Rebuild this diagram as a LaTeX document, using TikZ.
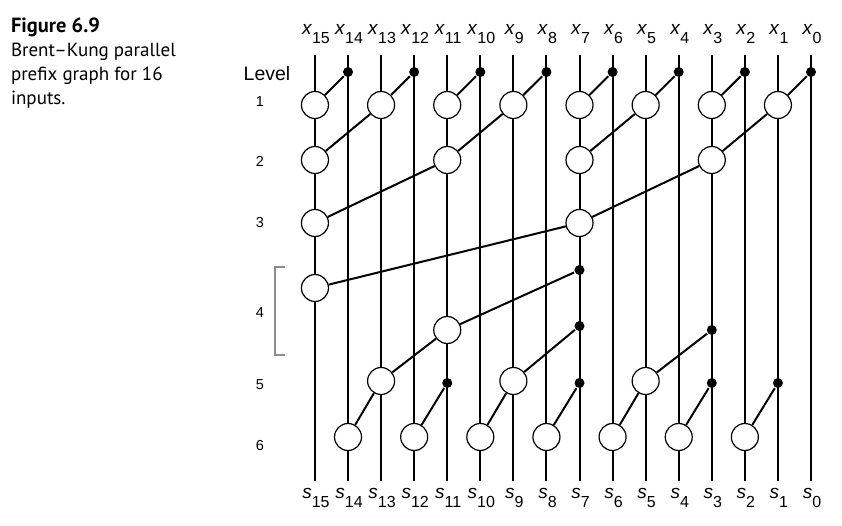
\documentclass[tikz,border=0pt]{standalone}
\usepackage{fontspec}
\setmainfont{Liberation Sans}
\newfontfamily\capfont{PT Sans}
\tikzset{pnode/.style={circle,draw,fill=white,line width=1.2pt,minimum size=27pt,inner sep=0pt},
fanout/.style={circle,fill=black,minimum size=10pt,inner sep=0pt},
lbl/.style={anchor=base,font=\fontsize{19}{19}\selectfont,inner sep=0pt},
levnum/.style={anchor=base,font=\fontsize{14.5}{14.5}\selectfont,inner sep=0pt}}
\newcommand{\idx}[2]{\textit{#1}\raisebox{-9pt}{\fontsize{16}{16}\selectfont #2}}

\begin{document}
\begin{tikzpicture}[x=1pt,y=-1pt,line width=2pt]
\useasboundingbox (0,0) rectangle (842,526);
\node (cap) [anchor=north west,align=left,inner sep=0pt,font=\capfont\fontsize{19}{24}\selectfont] at (10,17) {{\fontsize{20.5}{24}\selectfont\bfseries Figure 6.9}\\Brent\textendash Kung parallel\\prefix graph for 16\\inputs.};

\foreach \i in {0,...,15} {
\coordinate (t\i) at (811-33.07*\i,55);
\coordinate (b\i) at (811-33.07*\i,481);
\draw (t\i) -- (b\i);
\node (x\i) [lbl] at (812-33.07*\i,35) {\idx{x}{\i}};
\node (s\i) [lbl] at (812-33.07*\i,498) {\idx{s}{\i}};
}

\node (lev) [anchor=base,inner sep=0pt,font=\fontsize{19.5}{19.5}\selectfont] at (267,81) {Level};
\foreach \n/\y in {1/107,2/167,3/228,4/317,5/389,6/450}
\node (lev\n) [levnum] at (260,\y) {\n};
\draw[black!45,line width=1.7pt] (285,267) -| (275,355) -- (285,355);

\foreach \i in {1,3,...,15} {
\pgfmathtruncatemacro\j{\i-1}
\node (f1-\j) [fanout] at (811-33.07*\j,72) {};
\node (p1-\i) [pnode] at (811-33.07*\i,105) {};
\draw (f1-\j) -- (p1-\i);
}
\foreach \i in {3,7,11,15} {
\pgfmathtruncatemacro\j{\i-2}
\node (p2-\i) [pnode] at (811-33.07*\i,160) {};
\draw (p1-\j) -- (p2-\i);
}
\foreach \i in {7,15} {
\pgfmathtruncatemacro\j{\i-4}
\node (p3-\i) [pnode] at (811-33.07*\i,223) {};
\draw (p2-\j) -- (p3-\i);
}
\node (p4-15) [pnode] at (811-33.07*15,288) {};
\draw (p3-7) -- (p4-15);
\node (f4-7) [fanout] at (811-33.07*7,270) {};
\node (p4-11) [pnode] at (811-33.07*11,330) {};
\draw (f4-7) -- (p4-11);

\node (f5-7) [fanout] at (811-33.07*7,326) {};
\node (f5-3) [fanout] at (811-33.07*3,330) {};
\foreach \i/\src in {13/p4-11,9/f5-7,5/f5-3} {
\node (p5-\i) [pnode] at (811-33.07*\i,381) {};
\draw (\src) -- (p5-\i);
}
\foreach \i in {1,3,7,11}
\node (f6-\i) [fanout] at (811-33.07*\i,383) {};
\foreach \i/\src in {14/p5-13,12/f6-11,10/p5-9,8/f6-7,6/p5-5,4/f6-3,2/f6-1} {
\node (p6-\i) [pnode] at (811-33.07*\i,437) {};
\draw (\src) -- (p6-\i);
}
\end{tikzpicture}
\end{document}
